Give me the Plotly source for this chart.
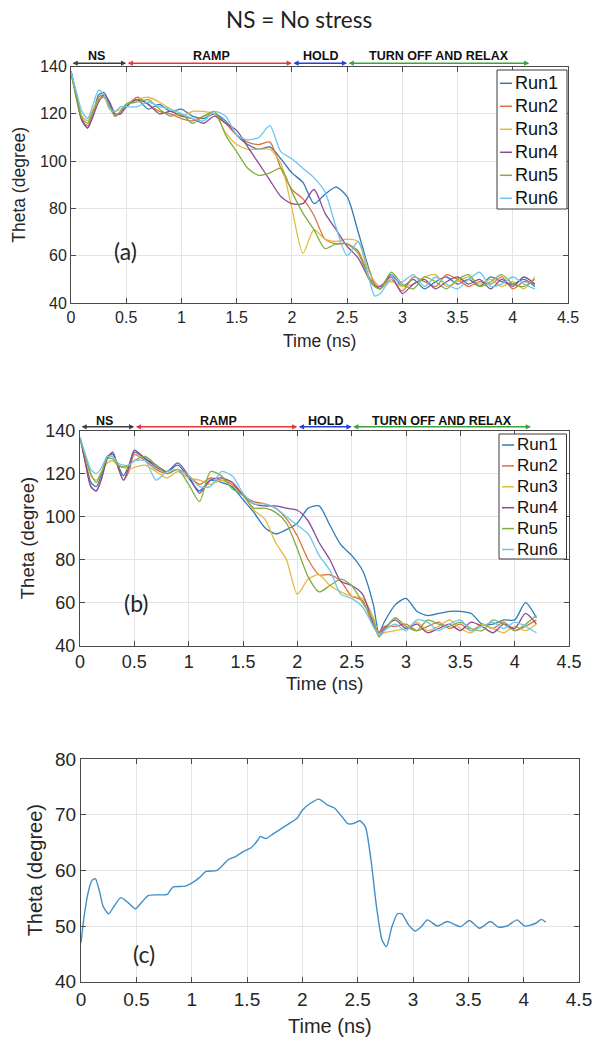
import plotly.graph_objects as go

W, H = 596, 1044

# ---------------- data ----------------
T_AB = [0, 0.05, 0.1, 0.15, 0.2, 0.25, 0.3, 0.35, 0.4, 0.45, 0.5,
        0.6, 0.7, 0.8, 0.9, 1.0, 1.1, 1.2, 1.3, 1.4,
        1.5, 1.6, 1.7, 1.8, 1.9, 2.0, 2.1, 2.2, 2.3, 2.4, 2.5, 2.6, 2.7, 2.75, 2.8,
        2.9, 3.0, 3.1, 3.2, 3.3, 3.4, 3.5, 3.6, 3.7, 3.8, 3.9, 4.0, 4.1, 4.2]

RUNS = ["Run1", "Run2", "Run3", "Run4", "Run5", "Run6"]
COLORS = ["#2b7bba", "#e0703f", "#e8b83a", "#8a4a98", "#7fae3e", "#6cc6ee"]

A_RUN1 = [138, 128, 118, 114, 120, 128, 129, 124, 119, 121, 124,
          126, 122, 124, 121, 122, 119, 118, 120, 117,
          111, 107, 105, 106, 101, 95, 91, 82, 86, 89, 85, 70, 54, 48, 46,
          52, 47, 50, 46, 49, 51, 48, 50, 47, 51, 49, 48, 50, 47]
A_RUN2 = [138, 126, 117, 115, 120, 127, 128, 123, 119, 121, 123,
          127, 124, 121, 120, 118, 117, 119, 120, 116,
          111, 108, 107, 108, 97, 88, 84, 77, 67, 65, 65, 62, 51, 48, 46,
          50, 45, 51, 49, 47, 52, 50, 47, 49, 48, 51, 46, 49, 48]
A_RUN3 = [137, 127, 119, 117, 122, 126, 127, 122, 121, 122, 124,
          126, 127, 125, 122, 119, 121, 121, 120, 112,
          107, 105, 105, 105, 99, 80, 61, 71, 67, 66, 67, 66, 53, 49, 47,
          49, 47, 48, 51, 52, 47, 49, 51, 48, 50, 47, 49, 46, 51]
A_RUN4 = [138, 127, 117, 114, 119, 125, 128, 125, 120, 120, 123,
          126, 124, 120, 121, 119, 118, 116, 119, 116,
          113, 106, 99, 92, 85, 82, 82, 88, 78, 71, 64, 59, 50, 47, 47,
          51, 44, 48, 50, 46, 49, 51, 48, 50, 46, 50, 47, 51, 48]
A_RUN5 = [137, 127, 118, 116, 121, 126, 127, 123, 119, 121, 124,
          125, 126, 122, 119, 120, 116, 119, 121, 111,
          104, 97, 94, 95, 97, 87, 78, 71, 63, 65, 65, 61, 50, 47, 46,
          53, 48, 46, 51, 49, 46, 50, 52, 47, 49, 52, 48, 47, 50]
A_RUN6 = [138, 129, 121, 118, 124, 130, 128, 122, 121, 123, 123,
          123, 125, 123, 122, 120, 118, 117, 121, 119,
          111, 109, 110, 115, 104, 101, 97, 93, 87, 72, 60, 66, 50, 43, 44,
          50, 49, 52, 47, 51, 48, 46, 50, 53, 47, 48, 51, 48, 46]

B_RUN1 = [137, 126, 116, 114, 120, 128, 129, 124, 119, 124, 130,
          127, 123, 121, 124, 118, 112, 117, 116, 114,
          108, 102, 95, 92, 94, 97, 104, 105, 96, 87, 82, 75, 59, 46, 51,
          59, 62, 56, 54, 55, 56, 56, 55, 50, 50, 52, 52, 60, 53]
B_RUN2 = [137, 125, 114, 112, 118, 127, 130, 123, 117, 121, 129,
          126, 122, 120, 122, 119, 115, 118, 117, 115,
          110, 107, 106, 104, 99, 91, 80, 73, 73, 70, 63, 61, 49, 46, 49,
          49, 50, 47, 49, 51, 48, 50, 47, 50, 48, 51, 47, 49, 52]
B_RUN3 = [137, 127, 119, 117, 121, 125, 126, 124, 123, 122, 123,
          124, 121, 118, 121, 118, 117, 115, 117, 116,
          110, 103, 99, 88, 80, 64, 71, 73, 68, 65, 63, 62, 53, 45, 46,
          47, 48, 51, 47, 49, 52, 48, 46, 50, 48, 46, 49, 47, 50]
B_RUN4 = [137, 125, 114, 112, 118, 127, 130, 123, 117, 123, 131,
          127, 124, 121, 125, 119, 111, 117, 118, 116,
          110, 106, 105, 105, 104, 103, 98, 88, 80, 70, 68, 64, 50, 45, 48,
          52, 48, 50, 46, 48, 50, 47, 51, 49, 46, 50, 48, 55, 50]
B_RUN5 = [137, 128, 120, 116, 121, 127, 127, 124, 123, 124, 126,
          128, 124, 120, 122, 115, 107, 121, 119, 113,
          110, 104, 104, 102, 97, 85, 72, 65, 68, 71, 68, 60, 52, 44, 47,
          53, 49, 47, 52, 50, 49, 51, 48, 47, 52, 50, 47, 50, 54]
B_RUN6 = [137, 129, 122, 120, 123, 128, 128, 125, 124, 124, 126,
          126, 117, 121, 122, 119, 114, 114, 121, 119,
          111, 106, 106, 104, 100, 96, 92, 82, 75, 64, 62, 58, 49, 45, 47,
          50, 47, 52, 51, 47, 50, 52, 47, 49, 51, 48, 51, 49, 46]

T_C = [0, 0.03, 0.07, 0.1, 0.13, 0.17, 0.2, 0.25, 0.3, 0.36, 0.42, 0.49, 0.55, 0.61,
       0.7, 0.78, 0.83, 0.9, 0.95, 1.0, 1.07, 1.13, 1.23, 1.33, 1.4, 1.47, 1.54, 1.6,
       1.62, 1.67, 1.74, 1.81, 1.88, 1.95, 2.0, 2.07, 2.15, 2.23, 2.29, 2.36, 2.41,
       2.46, 2.52, 2.57, 2.62, 2.67, 2.72, 2.76, 2.81, 2.86, 2.9, 2.96, 3.02, 3.08,
       3.13, 3.22, 3.31, 3.43, 3.51, 3.6, 3.7, 3.77, 3.85, 3.94, 4.01, 4.11, 4.16, 4.2]
THETA_C = [47, 52, 56.5, 58.2, 58.5, 56, 53.5, 52.2, 53.6, 55.1, 54.3, 53.1, 54.3, 55.5,
           55.6, 55.7, 57, 57.1, 57.2, 57.7, 58.7, 59.8, 60, 61.9, 62.5, 63.4, 64.1, 65.5,
           66.1, 65.7, 66.6, 67.5, 68.4, 69.3, 70.8, 72.0, 72.8, 71.7, 71.2, 69.6, 68.4,
           68.4, 68.9, 67.8, 61.9, 53.5, 47.5, 46.3, 49.9, 52.2, 52.2, 50.2, 49.1, 50,
           51.1, 50, 50.8, 49.9, 51, 49.6, 50.8, 49.8, 50, 51.1, 50, 50.5, 51.2, 50.7]

PHASE_NAMES = ["NS", "RAMP", "HOLD", "TURN OFF AND RELAX"]
PHASE_START = [0, 0.5, 2.0, 2.5]
PHASE_END = [0.5, 2.0, 2.5, 4.15]
PHASE_LABEL_X = [0.23, 1.27, 2.26, 3.33]
PHASE_COLORS = ["#404040", "#e8363c", "#2340e0", "#3aa33a"]

PANEL_A = [A_RUN1, A_RUN2, A_RUN3, A_RUN4, A_RUN5, A_RUN6]
PANEL_B = [B_RUN1, B_RUN2, B_RUN3, B_RUN4, B_RUN5, B_RUN6]

X_TICKS = [0, 0.5, 1, 1.5, 2, 2.5, 3, 3.5, 4, 4.5]

# ---------------- layout helpers ----------------
def px(x):
    return x / W

def py(y):
    return 1 - y / H

TXT = "#262626"
AXC = "#4a4a4a"
GRID = "#e4e4e4"
TICKFONT = "Liberation Sans, Arial, sans-serif"
CAL = "Lato, Open Sans, sans-serif"

fig = go.Figure()

panels = [
    dict(x="x", y="y", xd=(71, 568), yd=(66.5, 303), yr=(40, 140), dt=20, tf=16, af=17.5,
         lab="(a)", lx=0.49, ly=62, ytx=19, xty=341),
    dict(x="x2", y="y2", xd=(80, 569), yd=(430.7, 645.7), yr=(40, 140), dt=20, tf=18, af=18.5,
         lab="(b)", lx=0.52, ly=60, ytx=27, xty=683),
    dict(x="x3", y="y3", xd=(81, 579), yd=(759, 981.7), yr=(40, 80), dt=10, tf=19, af=20,
         lab="(c)", lx=0.57, ly=45, ytx=35, xty=1026),
]

for p, series in zip(panels[:2], [PANEL_A, PANEL_B]):
    for name, col, vals in zip(RUNS, COLORS, series):
        fig.add_trace(go.Scatter(x=T_AB, y=vals, mode="lines", name=name,
                                 line=dict(color=col, width=1.3, shape="spline", smoothing=0.7),
                                 xaxis=p["x"], yaxis=p["y"], showlegend=False))

fig.add_trace(go.Scatter(x=T_C, y=THETA_C, mode="lines", name="theta",
                         line=dict(color="#3f8fc8", width=1.4, shape="spline", smoothing=0.6),
                         xaxis="x3", yaxis="y3", showlegend=False))

layout = dict(template="none", width=W, height=H,
              margin=dict(l=0, r=0, t=0, b=0, pad=0, autoexpand=False),
              paper_bgcolor="white", plot_bgcolor="white", showlegend=False,
              font=dict(family=TICKFONT, color=TXT))

annotations = []
shapes = []

def note(x, y, text, size, family=TICKFONT, color=TXT, xref="paper", yref="paper", **kw):
    d = dict(x=x, y=y, xref=xref, yref=yref, text=text, showarrow=False,
             xanchor="center", yanchor="middle", font=dict(family=family, size=size, color=color))
    d.update(kw)
    return d

for i, p in enumerate(panels):
    sx = "" if i == 0 else str(i + 1)
    common = dict(ticks="inside", ticklen=5, tickcolor=AXC, showline=True, linecolor=AXC,
                  linewidth=1, mirror="ticks", showgrid=True, gridcolor=GRID, gridwidth=1,
                  zeroline=False, automargin=False,
                  tickfont=dict(family=TICKFONT, size=p["tf"], color=TXT))
    layout["xaxis" + sx] = dict(domain=[px(p["xd"][0]), px(p["xd"][1])], anchor=p["y"],
                                range=[0, 4.5], tickvals=X_TICKS, **common)
    layout["yaxis" + sx] = dict(domain=[py(p["yd"][1]), py(p["yd"][0])], anchor=p["x"],
                                range=list(p["yr"]), dtick=p["dt"], tick0=0, **common)
    annotations.append(note(p["lx"], p["ly"], p["lab"], 23, family=CAL,
                            xref=p["x"], yref=p["y"]))
    yc = (p["yd"][0] + p["yd"][1]) / 2
    xc = (p["xd"][0] + p["xd"][1]) / 2
    annotations.append(note(px(p["ytx"]), py(yc), "Theta (degree)", p["af"], textangle=-90))
    annotations.append(note(px(xc), py(p["xty"]), "Time (ns)", p["af"]))

# phase arrows on panels (a), (b)
for p, line_y, text_y in [(panels[0], 63.2, 56.5), (panels[1], 426.8, 421.3)]:
    for nm, s, e, lxp, c in zip(PHASE_NAMES, PHASE_START, PHASE_END, PHASE_LABEL_X, PHASE_COLORS):
        annotations.append(dict(x=e, y=py(line_y), xref=p["x"], yref="paper",
                                ax=s, ay=0, axref=p["x"], ayref="pixel", text="",
                                showarrow=True, arrowhead=2, arrowside="end+start",
                                arrowsize=0.7, arrowwidth=1.5, arrowcolor=c,
                                standoff=0, startstandoff=0))
        annotations.append(note(lxp, py(text_y), "<b>%s</b>" % nm, 12.5, color="#111",
                                xref=p["x"], yref="paper"))

# custom legends
for (x0, x1, y0, y1, r0, dr, fs) in [(497, 567, 70, 209, 83.3, 23.0, 18), (499, 566.5, 434, 559, 445, 20.9, 17)]:
    shapes.append(dict(type="rect", xref="paper", yref="paper", x0=px(x0), x1=px(x1),
                       y0=py(y1), y1=py(y0), line=dict(color="#3a3a3a", width=1), fillcolor="white",
                       layer="above"))
    for k, (nm, col) in enumerate(zip(RUNS, COLORS)):
        yy = r0 + k * dr
        shapes.append(dict(type="line", xref="paper", yref="paper", x0=px(x0 + 3), x1=px(x0 + 15),
                           y0=py(yy), y1=py(yy), line=dict(color=col, width=1.5), layer="above"))
        annotations.append(note(px(x0 + 15.5), py(yy), nm, fs, color="#111", xanchor="left"))

annotations.append(note(px(299), py(19), "NS = No stress", 22.5, family=CAL, color="#222"))

layout["annotations"] = annotations
layout["shapes"] = shapes
fig.update_layout(**layout)
fig.write_html("out.html", config={"displayModeBar": False},
               post_script="document.body.style.margin='0px';")
